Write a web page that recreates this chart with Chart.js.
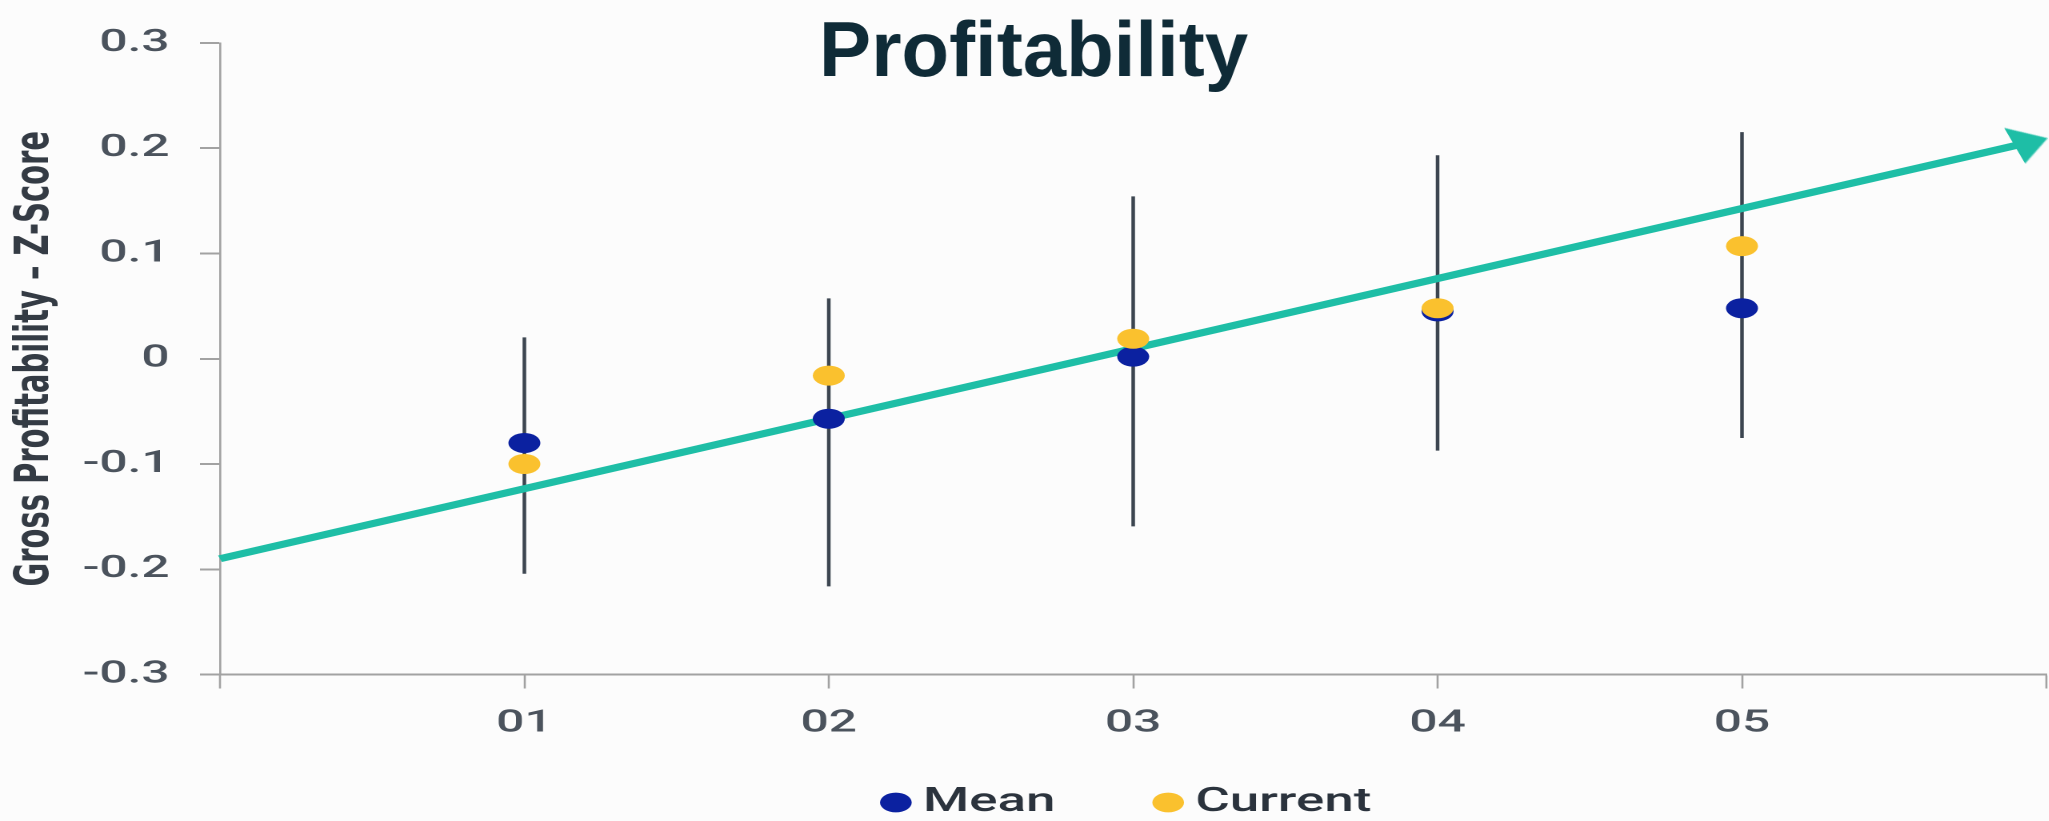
<!DOCTYPE html>
<html>
<head>
<meta charset="utf-8">
<title>Profitability</title>
<script src="https://cdn.jsdelivr.net/npm/chart.js@4.4.1/dist/chart.umd.min.js"></script>
<style>
    html, body { margin: 0; padding: 0; background: #fcfcfc; overflow: hidden; }
    #wrap { width: 1281px; height: 821px; transform-origin: 0 0; }
</style>
</head>
<body>
<div id="wrap"><canvas id="profit-chart" width="1281" height="821"></canvas></div>
<script>
// Chart data
const TITLE_TEXT = 'Profitability';
const Y_TITLE = 'Gross Profitability – Z-Score';
const categories = ['01', '02', '03', '04', '05'];
const categoryX = [1, 2, 3, 4, 5];
const meanValues = [-0.08, -0.057, 0.002, 0.045, 0.048];
const currentValues = [-0.10, -0.016, 0.019, 0.048, 0.107];
const rangeLow = [-0.204, -0.216, -0.159, -0.087, -0.075];
const rangeHigh = [0.02, 0.057, 0.154, 0.193, 0.215];
const trendX = [0, 5.95];
const trendY = [-0.19, 0.206];
const xTicks = [0, 1, 2, 3, 4, 5, 6];
const xTickLabels = ['', '01', '02', '03', '04', '05', ''];
const yTicks = [-0.3, -0.2, -0.1, 0, 0.1, 0.2, 0.3];
const yTickLabels = ['-0.3', '-0.2', '-0.1', '0', '0.1', '0.2', '0.3'];

// The source picture is stretched sideways, so the canvas is too
const STRETCH = 1.6;
document.getElementById('wrap').style.transform = 'scaleX(' + STRETCH + ')';

const BLUE = '#0b21a0';
const YELLOW = '#fac12e';
const TEAL = '#1ebea6';
const BAR = '#3c4550';
const AXIS = '#a2a2a2';
const TICK = '#4b535d';

// Arrow head used as the point style of the trend's last point
const arrowHead = document.createElement('canvas');
arrowHead.width = 22;
arrowHead.height = 38;
(function () {
    const c = arrowHead.getContext('2d');
    c.fillStyle = TEAL;
    c.beginPath();
    c.moveTo(0, 0);
    c.lineTo(22, 19);
    c.lineTo(0, 38);
    c.closePath();
    c.fill();
})();

// Title drawn without the sideways stretch
const plainTitle = {
    id: 'plainTitle',
    afterDraw(chart, args, opts) {
        const ctx = chart.ctx;
        ctx.save();
        ctx.translate(opts.x, opts.y);
        ctx.scale(1 / STRETCH, 1);
        ctx.font = opts.font;
        ctx.fillStyle = opts.color;
        ctx.textAlign = 'center';
        ctx.textBaseline = 'alphabetic';
        ctx.fillText(opts.text, 0, 0);
        ctx.restore();
    }
};

const tickFont = { family: 'Roboto', size: 31, weight: '500' };

new Chart(document.getElementById('profit-chart'), {
    type: 'scatter',
    data: {
        datasets: [
            {
                type: 'bar',
                label: 'Range',
                data: categoryX.map((x, i) => ({ x: x, y: [rangeLow[i], rangeHigh[i]] })),
                backgroundColor: BAR,
                barThickness: 1.6,
                order: 4
            },
            {
                type: 'line',
                label: 'Trend',
                data: trendX.map((x, i) => ({ x: x, y: trendY[i] })),
                borderColor: TEAL,
                borderWidth: 7,
                pointRadius: [0, 10],
                pointStyle: ['circle', arrowHead],
                pointRotation: -20.2,
                clip: false,
                order: 3
            },
            {
                label: 'Mean',
                data: categoryX.map((x, i) => ({ x: x, y: meanValues[i] })),
                backgroundColor: BLUE,
                borderWidth: 0,
                pointRadius: 10,
                pointStyle: 'circle',
                order: 2
            },
            {
                label: 'Current',
                data: categoryX.map((x, i) => ({ x: x, y: currentValues[i] })),
                backgroundColor: YELLOW,
                borderWidth: 0,
                pointRadius: 10,
                pointStyle: 'circle',
                order: 1
            }
        ]
    },
    options: {
        responsive: false,
        devicePixelRatio: 2,
        animation: false,
        events: [],
        layout: { autoPadding: false, padding: { top: 43, left: 0, right: 2, bottom: -8 } },
        plugins: {
            tooltip: { enabled: false },
            title: { display: false },
            plainTitle: {
                text: TITLE_TEXT,
                x: 646,
                y: 76,
                font: 'bold 78px "Liberation Sans", Arial, sans-serif',
                color: '#0f2b37'
            },
            legend: {
                position: 'bottom',
                fullSize: false,
                labels: {
                    usePointStyle: true,
                    boxWidth: 1,
                    boxHeight: 14,
                    padding: 70,
                    color: '#2b333d',
                    font: { family: 'Roboto', size: 33, weight: '500' },
                    filter: item => item.text === 'Mean' || item.text === 'Current',
                    sort: (a, b) => a.datasetIndex - b.datasetIndex
                }
            }
        },
        scales: {
            x: {
                type: 'linear',
                min: 0,
                max: 6,
                offset: false,
                afterBuildTicks: scale => { scale.ticks = xTicks.map(v => ({ value: v })); },
                afterFit: scale => {
                    scale.height = 41.5;
                    scale.paddingLeft = 0;
                    scale.paddingRight = 0;
                },
                ticks: {
                    autoSkip: false,
                    maxRotation: 0,
                    // mirror keeps the labels from being clipped to the short axis box
                    mirror: true,
                    padding: -68,
                    color: TICK,
                    font: tickFont,
                    callback: (v, i) => xTickLabels[i]
                },
                grid: {
                    offset: false,
                    drawOnChartArea: false,
                    tickLength: 14,
                    tickColor: AXIS,
                    tickWidth: 1.3
                },
                border: { color: AXIS, width: 2 }
            },
            y: {
                min: -0.3,
                max: 0.3,
                afterBuildTicks: scale => { scale.ticks = yTicks.map(v => ({ value: v })); },
                afterFit: scale => { scale.width = 137.5; },
                ticks: {
                    padding: 19,
                    color: TICK,
                    font: tickFont,
                    callback: (v, i) => yTickLabels[i]
                },
                grid: {
                    drawOnChartArea: false,
                    tickLength: 12.5,
                    tickColor: AXIS,
                    tickWidth: 2
                },
                border: { color: AXIS, width: 1.3 },
                title: {
                    display: true,
                    text: Y_TITLE,
                    color: '#343b44',
                    font: { family: 'DejaVu Sans', weight: 'bold', size: 29 },
                    padding: { top: 5, bottom: 0 }
                }
            }
        }
    },
    plugins: [plainTitle]
});
</script>
</body>
</html>
